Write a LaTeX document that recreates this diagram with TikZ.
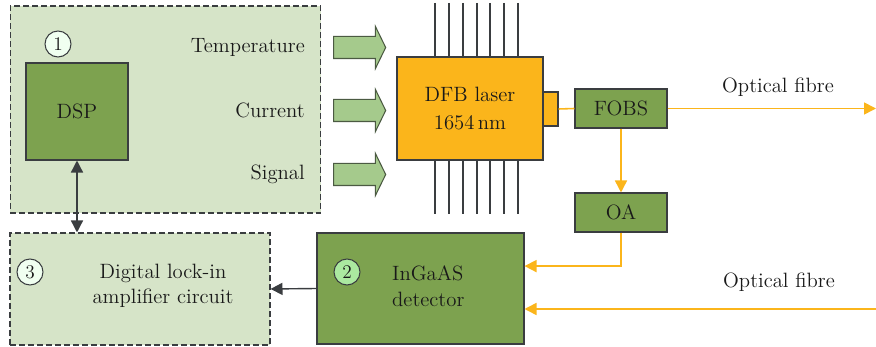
\documentclass[tikz,border=0pt]{standalone}
\usetikzlibrary{arrows.meta, calc, shapes.arrows}
\definecolor{panelGreen}{HTML}{D6E4C8}
\definecolor{boxGreen}{HTML}{7DA24F}
\definecolor{arrowGreen}{HTML}{A5CA8C}
\definecolor{arrowEdge}{HTML}{4B5A42}
\definecolor{laserOrange}{HTML}{FBB51B}
\definecolor{lineGray}{HTML}{3A3D40}
\tikzset{
  panel/.style={draw=lineGray, line width=0.6pt, dash pattern=on 1.2mm off 0.6mm, fill=panelGreen, inner sep=0},
  unit/.style={draw=lineGray, line width=0.6pt, fill=boxGreen, inner sep=0},
  marker/.style={draw=lineGray, circle, line width=0.6pt, minimum size=0.52cm, inner sep=0, font=\fontsize{11}{12}\selectfont},
  feed/.style={single arrow, draw=arrowEdge, fill=arrowGreen, line width=0.6pt, inner sep=0.21cm, single arrow head extend=0.2cm, single arrow tip angle=128, minimum height=1.04cm},
  beam/.style={draw=laserOrange, line width=0.9pt, ->, >={Triangle[length=2.4mm, width=2.4mm]}}
}

\begin{document}
\begin{tikzpicture}[x=0.02cm, y=-0.02cm, >={Triangle[length=2.4mm, width=2.4mm]}, every node/.style={font=\fontsize{11.8}{14.5}\selectfont, text=black!90}]
  \useasboundingbox (0,0) rectangle (876,347);
  % control side
  \node[panel, minimum width=6.22cm, minimum height=4.14cm] (ctrlPanel) at (165.5,109.5) {};
  \node[unit, minimum width=2.04cm, minimum height=1.94cm] (dsp) at (77,111.5) {DSP};
  \node[marker, fill=green!6] (markOne) at (58,44) {1};
  \node[anchor=east] (tempLbl) at (311,47) {Temperature};
  \node[anchor=east] (currLbl) at (311,110) {Current};
  \node[anchor=east] (sigLbl) at (311,174) {Signal};
  \node[feed] (tempIn) at (357,47.5) {};
  \node[feed] (currIn) at (357,110.5) {};
  \node[feed] (sigIn) at (357,174.5) {};
  % laser
  \foreach \px in {435,449,463,477,490,504,518} {
    \draw[lineGray, line width=0.7pt] (\px,3) -- (\px,57);
    \draw[lineGray, line width=0.7pt] (\px,160) -- (\px,214);
  }
  \node[draw=lineGray, line width=0.6pt, fill=laserOrange, minimum width=2.92cm, minimum height=2.06cm, align=center, inner sep=0] (dfb) at (470,108.5) {DFB laser\\[1pt]1654\,nm};
  \node[draw=lineGray, line width=0.6pt, fill=laserOrange, minimum width=0.3cm, minimum height=0.68cm, inner sep=0] (port) at (550.5,109) {};
  \node[unit, minimum width=1.84cm, minimum height=0.78cm] (fobs) at (621,108.5) {FOBS};
  \node[unit, minimum width=1.84cm, minimum height=0.78cm] (oa) at (621,212.5) {OA};
  % detection side
  \node[panel, minimum width=5.2cm, minimum height=2.24cm] (lockPanel) at (140,289) {};
  \node[marker, fill=green!6] (markThree) at (30,272) {3};
  \node[align=center] (lockLbl) at (163,286) {Digital lock-in\\amplifier circuit};
  \node[unit, minimum width=4.14cm, minimum height=2.22cm] (detector) at (420.5,288.5) {};
  \node[marker, fill=green!20!panelGreen] (markTwo) at (347,272) {2};
  \node[align=left, anchor=west] (detLbl) at (386,286) {InGaAS\\detector};
  \node (fibreTop) at (778,87) {Optical fibre};
  \node (fibreBot) at (779,282) {Optical fibre};
  \coordinate (fibreOut) at (876,108.5);
  \coordinate (fibreIn) at (876,309);
  % connectors
  \draw[<->, lineGray, line width=0.8pt] (dsp.south) -- (dsp.south |- lockPanel.north);
  \draw[->, lineGray, line width=0.8pt] (detector.west) -- (lockPanel.east);
  \draw[draw=laserOrange, line width=0.9pt] (port.east) -- (fobs.west);
  \draw[beam] (fobs.east) -- (fibreOut);
  \draw[beam] (fobs.south) -- (oa.north);
  \draw[beam] (oa.south) |- ($(detector.north east)!0.3!(detector.south east)$);
  \draw[beam] (fibreIn) -- (fibreIn -| detector.east);
\end{tikzpicture}
\end{document}
